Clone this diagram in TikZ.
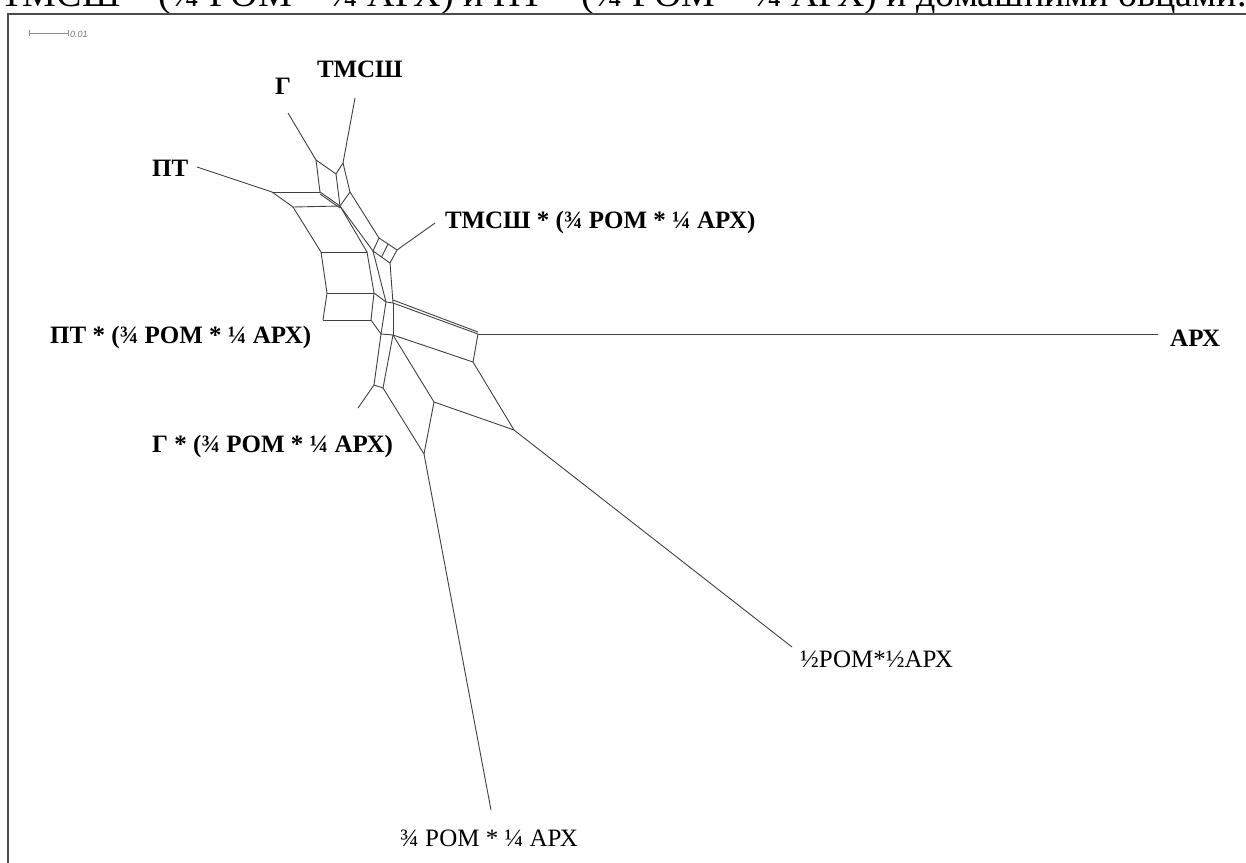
\documentclass[tikz,border=0pt]{standalone}
\usepackage{fontspec}
\setmainfont{Liberation Serif}
\newfontfamily\barfont{Liberation Sans}
\usetikzlibrary{calc}
\begin{document}
\begin{tikzpicture}[x=1pt, y=-1pt,
        split/.style={draw=black!75, line width=0.9pt},
        taxon/.style={anchor=base west, inner sep=0pt, font=\fontsize{25}{30}\selectfont\bfseries},
        taxonlight/.style={anchor=base west, inner sep=0pt, font=\fontsize{25}{30}\selectfont}]
    \useasboundingbox (0, 0) rectangle (1246, 862);
    \node[anchor=base west, inner sep=0pt, font=\fontsize{38}{44}\selectfont] (head) at (0, 6){ТМСШ * (¾ РОМ * ¼ АРХ) и ПТ * (¾ РОМ * ¼ АРХ) и домашними овцами.};
    \draw[draw=black!70, line width=1.1pt](8, 870) to (8, 14) to (1250, 14);
    \draw[draw=black!45, line width=0.7pt](29, 30) to (29, 36);
        \draw[draw=black!45, line width=0.7pt](29, 33) to (68, 33);
        \draw[draw=black!45, line width=0.7pt](68, 30) to (68, 36);
        \node[anchor=west, inner sep=0pt, text=black!55, font=\fontsize{9}{10}\barfont\itshape] (scale) at (70, 34){0.01};
    \coordinate (gL) at (288, 113);
    \coordinate (tL) at (355, 98);
    \coordinate (pL) at (197, 167);
    \coordinate (a1) at (316, 160);
    \coordinate (a2) at (343, 163);
    \coordinate (a3) at (336, 174);
    \coordinate (b1) at (320, 192);
    \coordinate (b2) at (340, 206);
    \coordinate (b3) at (350, 192);
    \coordinate (p1) at (272, 192);
    \coordinate (p2) at (293, 207);
    \coordinate (s1) at (321, 252);
    \coordinate (s2) at (367, 252);
    \coordinate (s3) at (327, 293);
    \coordinate (s4) at (374, 293);
    \coordinate (s5) at (323, 320);
    \coordinate (s6) at (371, 320);
    \coordinate (m1) at (379, 238);
    \coordinate (m2) at (397, 250);
    \coordinate (m3) at (390, 263);
    \coordinate (m4) at (373, 251);
    \coordinate (mL) at (435, 223);
    \coordinate (k1) at (386, 302);
    \coordinate (k2) at (393, 303);
    \coordinate (k3) at (381, 334);
    \coordinate (k4) at (393, 335);
    \coordinate (g1) at (374, 385);
    \coordinate (g2) at (383, 388);
    \coordinate (gsL) at (358, 408);
    \coordinate (x1) at (478, 334);
    \coordinate (x2) at (473, 362);
    \coordinate (aL) at (1158, 334);
    \coordinate (h1) at (434, 402);
    \coordinate (h2) at (514, 430);
    \coordinate (hL) at (792, 647);
    \coordinate (q1) at (424, 454);
    \coordinate (qL) at (491, 810);
    \draw[split](gL) to (a1);
    \draw[split](tL) to (a2);
    \draw[split](pL) to (p1);
    \draw[split](a1) to (a3);
    \draw[split](a2) to (a3);
    \draw[split](a1) to (b1);
    \draw[split](a3) to (b2);
    \draw[split](a2) to (b3);
    \draw[split](b1) to (b2);
        \draw[split]([yshift=-2pt]b1) to ([yshift=-2pt]b2);
    \draw[split](b3) to (b2);
    \draw[split](b3) to (m1);
    \draw[split](p1) to (b1);
    \draw[split](p1) to (p2);
    \draw[split](p2) to (b2);
    \draw[split](p2) to (s1);
    \draw[split](s1) to (s2);
    \draw[split](s1) to (s3);
    \draw[split](s3) to (s4);
    \draw[split](s3) to (s5);
    \draw[split](s5) to (s6);
    \draw[split](s2) to (s4);
    \draw[split](s4) to (s6);
    \draw[split](b2) to (s2);
        \draw[split](b2) to (m4);
    \draw[split](m1) to (m2);
    \draw[split](m2) to (m3);
    \draw[split](m3) to (m4);
    \draw[split](m4) to (m1);
    \draw[split]($(m1)!0.5!(m2)$) to ($(m4)!0.5!(m3)$);
    \draw[split](m2) to (mL);
    \draw[split](m4) to (k1);
    \draw[split](m3) to (k2);
    \draw[split](s4) to (k1);
    \draw[split](k1) to (k2);
    \draw[split](k2) to (x1);
        \draw[split]([yshift=3pt]k2) to ([yshift=2pt]x1);
    \draw[split](k1) to (k3);
    \draw[split](k2) to (k4);
    \draw[split](s6) to (k3);
    \draw[split](k3) to (k4);
    \draw[split](k3) to (g1);
    \draw[split](k4) to (g2);
    \draw[split](g1) to (g2);
    \draw[split](g1) to (gsL);
    \draw[split](k4) to (x2);
    \draw[split](x1) to (x2);
    \draw[split](x1) to (aL);
    \draw[split](k4) to (h1);
    \draw[split](h1) to (h2);
    \draw[split](x2) to (h2);
    \draw[split](h2) to (hL);
    \draw[split](h1) to (q1);
    \draw[split](g2) to (q1);
    \draw[split](q1) to (qL);
        \node[taxon] (lG) at (275, 94){Г};
        \node[taxon] (lT) at (317, 77){ТМСШ};
        \node[taxon] (lP) at (152, 176){ПТ};
        \node[taxon] (lTx) at (445, 228){ТМСШ * (¾ РОМ * ¼ АРХ)};
        \node[taxon] (lPx) at (50, 343){ПТ * (¾ РОМ * ¼ АРХ)};
        \node[taxon] (lGx) at (152, 452){Г * (¾ РОМ * ¼ АРХ)};
        \node[taxon] (lA) at (1170, 346){АРХ};
        \node[taxonlight] (lH) at (800, 667){½РОМ*½АРХ};
        \node[taxonlight] (lQ) at (400, 846){¾ РОМ * ¼ АРХ};
\end{tikzpicture}
\end{document}
